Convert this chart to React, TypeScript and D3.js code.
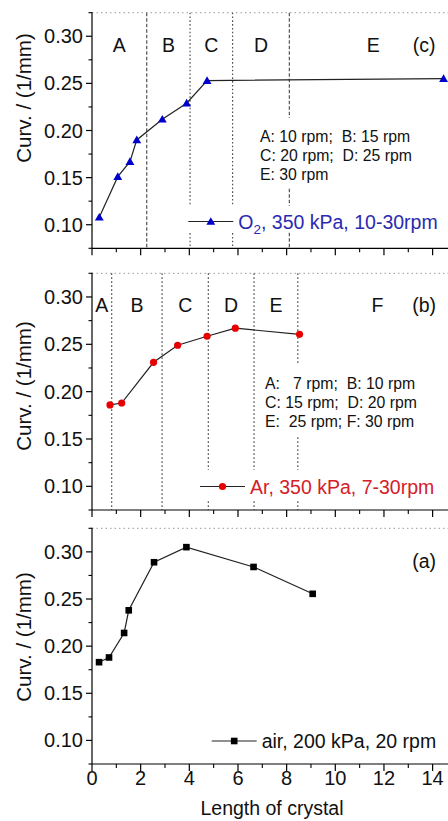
import React from 'react';
import * as d3 from 'd3';

// ---------- data ----------
const X_MAX = 15;
const Y_MIN = 0.075;
const Y_MAX = 0.325;
const X_MAJOR_TICKS = [0, 2, 4, 6, 8, 10, 12, 14];
const X_MINOR_TICKS = [1, 3, 5, 7, 9, 11, 13, 15];
const Y_MAJOR_TICKS = [0.1, 0.15, 0.2, 0.25, 0.3];
const Y_MINOR_TICKS = [0.075, 0.125, 0.175, 0.225, 0.275, 0.325];

const O2_LENGTH = [0.3, 1.06, 1.56, 1.84, 2.89, 3.89, 4.73, 14.45];
const O2_CURV = [0.108, 0.151, 0.167, 0.19, 0.212, 0.229, 0.253, 0.255];
const O2_BOUNDS = [2.25, 4.03, 5.78, 8.11];
const O2_REGIONS = ['A', 'B', 'C', 'D', 'E'];
const O2_NOTES = ['A: 10 rpm;  B: 15 rpm', 'C: 20 rpm;  D: 25 rpm', 'E: 30 rpm'];

const AR_LENGTH = [0.74, 1.22, 2.53, 3.52, 4.73, 5.89, 8.53];
const AR_CURV = [0.186, 0.188, 0.231, 0.249, 0.2585, 0.267, 0.2605];
const AR_BOUNDS = [0.81, 2.88, 4.78, 6.66, 8.46];
const AR_REGIONS = ['A', 'B', 'C', 'D', 'E', 'F'];
const AR_NOTES = ['A:   7 rpm;  B: 10 rpm', 'C: 15 rpm;  D: 20 rpm', 'E:  25 rpm; F: 30 rpm'];

const AIR_LENGTH = [0.29, 0.7, 1.32, 1.51, 2.55, 3.88, 6.64, 9.07];
const AIR_CURV = [0.183, 0.188, 0.214, 0.238, 0.289, 0.305, 0.284, 0.2555];

const Y_TITLE = 'Curv. / (1/mm)';
const X_TITLE = 'Length of crystal';

// ---------- style / layout ----------
const FONT = "Arial, 'Liberation Sans', sans-serif";
const LEFT = 92;
const UNIT = 24.33;
const BLUE = '#0000cc';
const BLUE_TEXT = '#2a2ab0';
const RED = '#e60000';
const RED_TEXT = '#d4202a';

const x = d3.scaleLinear().domain([0, X_MAX]).range([LEFT, LEFT + X_MAX * UNIT]);

type PanelProps = {
  top: number;
  bottom: number;
  xs: number[];
  ys: number[];
  marker: 'tri' | 'circle' | 'square';
  color: string;
  bounds?: number[];
  boundDash?: string[];
  regions?: string[];
  tag: string;
  notes?: string[];
  notesX?: number;
  notesY?: number;
  masks: { x: number; y: number; w: number; h: number }[];
  legendText: React.ReactNode;
  legendColor: string;
  legendX0: number;
  legendY: number;
  titleY: number;
  labelBaseline: number;
  showXLabels?: boolean;
};

function Panel(p: PanelProps) {
  const y = d3.scaleLinear().domain([Y_MIN, Y_MAX]).range([p.bottom, p.top]);
  const line = d3
    .line<number>()
    .x((_, i) => x(p.xs[i]))
    .y((d) => y(d));
  const triPath = d3.symbol(d3.symbolTriangle, 34)() as string;
  const drawMarker = (cx: number, cy: number, key: any) => {
    if (p.marker === 'tri')
      return <path key={key} d={triPath} transform={`translate(${cx},${cy + 0.8})`} fill={p.color} />;
    if (p.marker === 'circle') return <circle key={key} cx={cx} cy={cy} r={3.6} fill={p.color} />;
    return <rect key={key} x={cx - 3.3} y={cy - 3.3} width={6.6} height={6.6} fill={p.color} />;
  };
  const edges = p.bounds ? [0, ...p.bounds, X_MAX] : [];
  const lx0 = p.legendX0;
  return (
    <g>
      {/* top dotted frame */}
      <line x1={LEFT} x2={448} y1={p.top} y2={p.top} stroke="#999" strokeWidth={1} strokeDasharray="1.5,3" />
      {/* region boundaries */}
      {p.bounds &&
        p.bounds.map((b, i) => (
          <line
            key={'b' + i}
            x1={x(b)}
            x2={x(b)}
            y1={p.top}
            y2={p.bottom}
            stroke="#444"
            strokeWidth={1.1}
            strokeDasharray={p.boundDash ? p.boundDash[i] : '1.6,2.4'}
          />
        ))}
      {p.masks.map((m, i) => (
        <rect key={'m' + i} x={m.x} y={m.y} width={m.w} height={m.h} fill="#fff" />
      ))}
      {/* region labels */}
      {p.regions &&
        p.regions.map((r, i) => (
          <text
            key={'r' + i}
            x={x((edges[i] + edges[i + 1]) / 2)}
            y={p.labelBaseline}
            textAnchor="middle"
            fontSize={19.5}
            fontFamily={FONT}
            fill="#111"
          >
            {r}
          </text>
        ))}
      <text x={x(13.65)} y={p.labelBaseline} textAnchor="middle" fontSize={19.5} fontFamily={FONT} fill="#111">
        {p.tag}
      </text>
      {/* notes */}
      {p.notes &&
        p.notes.map((n, i) => (
          <text
            key={'n' + i}
            x={p.notesX}
            y={(p.notesY as number) + i * 19}
            fontSize={15.8}
            fontFamily={FONT}
            fill="#111"
            style={{ whiteSpace: 'pre' }}
          >
            {n}
          </text>
        ))}
      {/* axes */}
      <line x1={LEFT} x2={LEFT} y1={p.top - 0.5} y2={p.bottom} stroke="#000" strokeWidth={1.2} />
      <line x1={LEFT} x2={448} y1={p.bottom} y2={p.bottom} stroke="#000" strokeWidth={1.2} />
      {Y_MAJOR_TICKS.map((t) => (
        <g key={'ym' + t}>
          <line x1={LEFT - 6} x2={LEFT} y1={y(t)} y2={y(t)} stroke="#000" strokeWidth={1.2} />
          <text x={83} y={y(t)} dy="0.35em" textAnchor="end" fontSize={20} fontFamily={FONT} fill="#111">
            {t.toFixed(2)}
          </text>
        </g>
      ))}
      {Y_MINOR_TICKS.map((t) => (
        <line key={'yn' + t} x1={LEFT - 3.5} x2={LEFT} y1={y(t)} y2={y(t)} stroke="#000" strokeWidth={1.1} />
      ))}
      {X_MAJOR_TICKS.map((t) => (
        <g key={'xm' + t}>
          <line x1={x(t)} x2={x(t)} y1={p.bottom} y2={p.bottom + 7} stroke="#000" strokeWidth={1.2} />
          {p.showXLabels && (
            <text x={x(t)} y={785} textAnchor="middle" fontSize={20} fontFamily={FONT} fill="#111">
              {t}
            </text>
          )}
        </g>
      ))}
      {X_MINOR_TICKS.map((t) => (
        <line key={'xn' + t} x1={x(t)} x2={x(t)} y1={p.bottom} y2={p.bottom + 4} stroke="#000" strokeWidth={1.1} />
      ))}
      <text
        transform={`translate(24,${p.titleY}) rotate(-90)`}
        dy="0.35em"
        textAnchor="middle"
        fontSize={20.5}
        fontFamily={FONT}
        fill="#111"
      >
        {Y_TITLE}
      </text>
      {/* data */}
      <path d={line(p.ys) as string} fill="none" stroke="#222" strokeWidth={1.2} />
      {p.ys.map((v, i) => drawMarker(x(p.xs[i]), y(v), 'p' + i))}
      {/* legend */}
      <line x1={lx0} x2={lx0 + 45} y1={p.legendY} y2={p.legendY} stroke="#222" strokeWidth={1.2} />
      {drawMarker(lx0 + 22.5, p.legendY, 'leg')}
      <text x={lx0 + 50} y={p.legendY} dy="0.36em" fontSize={19.5} fontFamily={FONT} fill={p.legendColor}>
        {p.legendText}
      </text>
    </g>
  );
}

export default function App() {
  return (
    <svg
      width={448}
      height={821}
      style={{ position: 'absolute', left: 0, top: 0, background: '#fff' }}
    >
      <rect x={0} y={0} width={448} height={821} fill="#fff" />
      <Panel
        top={12.7}
        bottom={248.3}
        xs={O2_LENGTH}
        ys={O2_CURV}
        marker="tri"
        color={BLUE}
        bounds={O2_BOUNDS}
        boundDash={['3.5,2', '1.6,2.2', '1.6,2.2', '3.5,2']}
        regions={O2_REGIONS}
        tag="(c)"
        notes={O2_NOTES}
        notesX={260}
        notesY={141.7}
        masks={[
          { x: 255, y: 118, w: 165, h: 70 },
          { x: 185, y: 206, w: 263, h: 26 },
        ]}
        legendText={
          <>
            O<tspan dy={5} fontSize={13.5}>2</tspan>
            <tspan dy={-5}>, 350 kPa, 10-30rpm</tspan>
          </>
        }
        legendColor={BLUE_TEXT}
        legendX0={188.3}
        legendY={221.5}
        titleY={98}
        labelBaseline={51.7}
      />
      <Panel
        top={273.3}
        bottom={510}
        xs={AR_LENGTH}
        ys={AR_CURV}
        marker="circle"
        color={RED}
        bounds={AR_BOUNDS}
        regions={AR_REGIONS}
        tag="(b)"
        notes={AR_NOTES}
        notesX={265}
        notesY={389.3}
        masks={[
          { x: 262, y: 364, w: 160, h: 73 },
          { x: 195, y: 470, w: 253, h: 30 },
        ]}
        legendText="Ar, 350 kPa, 7-30rpm"
        legendColor={RED_TEXT}
        legendX0={200}
        legendY={486.5}
        titleY={386}
        labelBaseline={311.7}
      />
      <Panel
        top={528.3}
        bottom={764}
        xs={AIR_LENGTH}
        ys={AIR_CURV}
        marker="square"
        color="#000"
        tag="(a)"
        masks={[]}
        legendText="air, 200 kPa, 20 rpm"
        legendColor="#111"
        legendX0={211.7}
        legendY={741}
        titleY={637}
        labelBaseline={567.5}
        showXLabels
      />
      <text x={272} y={815} textAnchor="middle" fontSize={19.5} fontFamily={FONT} fill="#111">
        {X_TITLE}
      </text>
    </svg>
  );
}
